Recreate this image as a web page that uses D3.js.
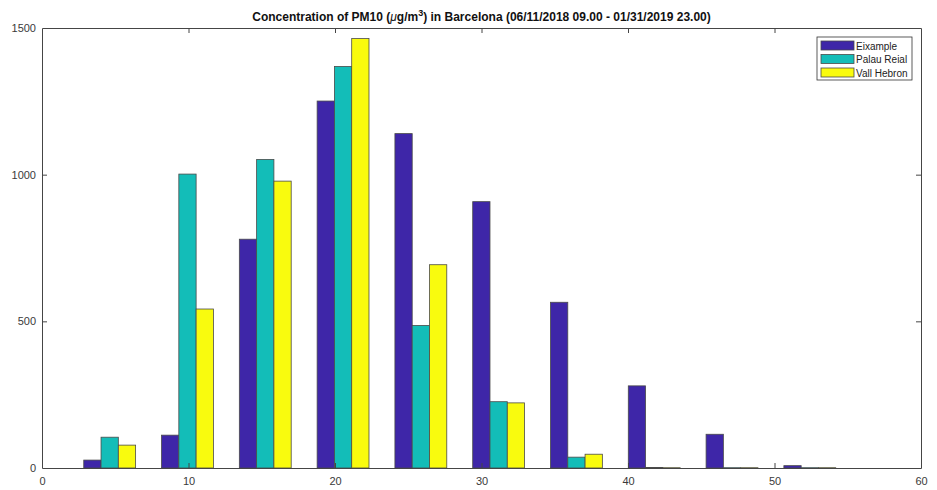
<!DOCTYPE html>
<html>
<head>
<meta charset="utf-8">
<script src="https://cdn.jsdelivr.net/npm/d3@7"></script>
<style>
  html, body { margin: 0; padding: 0; background: #fff; }
  svg { display: block; font-family: "Liberation Sans", Arial, Helvetica, sans-serif; }
</style>
</head>
<body>
<svg id="chart" width="937" height="490"></svg>
<script>
// Histogram bin centres (µg/m³)
const binCenters = [4.62, 9.93, 15.24, 20.55, 25.86, 31.17, 36.48, 41.79, 47.10, 52.41];
// Counts of hourly readings per bin, one array per station
const eixample    = [27, 112, 780, 1251, 1140, 908, 565, 280, 115, 8];
const palauReial  = [105, 1002, 1052, 1369, 486, 226, 37, 2, 1, 1];
const vallHebron  = [78, 542, 978, 1464, 693, 222, 47, 1, 1, 1];
const seriesNames = ["Eixample", "Palau Reial", "Vall Hebron"];
const seriesColors = ["#3e26a8", "#13bdb8", "#f9fb0e"];
const xTicks = [0, 10, 20, 30, 40, 50, 60];
const yTicks = [0, 500, 1000, 1500];

const seriesValues = [eixample, palauReial, vallHebron];
const svg = d3.select("#chart");

const plotLeft = 42, plotRight = 921, plotTop = 28, plotBottom = 468;
const x = d3.scaleLinear().domain([0, 60]).range([plotLeft, plotRight]);
const y = d3.scaleLinear().domain([0, 1500]).range([plotBottom, plotTop]);

// grouped bar layout: group occupies 3/(3+1.5) of the bin spacing
const spacing = binCenters[1] - binCenters[0];
const groupWidth = spacing * 3 / 4.5;
const inner = d3.scaleBand().domain(seriesNames).range([-groupWidth / 2, groupWidth / 2]).padding(0);

const rows = [];
binCenters.forEach((c, i) => {
  seriesNames.forEach((name, s) => {
    rows.push({ c, name, s, v: seriesValues[s][i] });
  });
});

svg.append("g").selectAll("rect")
  .data(rows)
  .join("rect")
  .attr("x", d => x(d.c + inner(d.name)))
  .attr("width", d => x(d.c + inner(d.name) + inner.bandwidth()) - x(d.c + inner(d.name)))
  .attr("y", d => y(d.v))
  .attr("height", d => y(0) - y(d.v))
  .attr("fill", d => seriesColors[d.s])
  .attr("stroke", "#4a4a4a")
  .attr("stroke-width", 0.8);

// axes, MATLAB-style: box with inward ticks on all four sides
const axisColor = "#454545";
const labelColor = "#3a3a3a";
const tickLen = 5;
const plain = d3.format("d");

const bottomAxis = svg.append("g").attr("transform", `translate(0,${plotBottom})`)
  .call(d3.axisBottom(x).tickValues(xTicks).tickFormat(plain).tickSizeInner(-tickLen).tickSizeOuter(0).tickPadding(9));
const leftAxis = svg.append("g").attr("transform", `translate(${plotLeft},0)`)
  .call(d3.axisLeft(y).tickValues(yTicks).tickFormat(plain).tickSizeInner(-tickLen).tickSizeOuter(0).tickPadding(6));
const topAxis = svg.append("g").attr("transform", `translate(0,${plotTop})`)
  .call(d3.axisTop(x).tickValues(xTicks).tickSizeInner(-tickLen).tickSizeOuter(0).tickFormat(""));
const rightAxis = svg.append("g").attr("transform", `translate(${plotRight},0)`)
  .call(d3.axisRight(y).tickValues(yTicks).tickSizeInner(-tickLen).tickSizeOuter(0).tickFormat(""));

[bottomAxis, leftAxis, topAxis, rightAxis].forEach(g => {
  g.select(".domain").attr("stroke", axisColor).attr("stroke-width", 1);
  g.selectAll(".tick line").attr("stroke", axisColor);
  g.selectAll(".tick text")
    .attr("fill", labelColor)
    .style("font-family", '"Liberation Sans", Arial, sans-serif')
    .style("font-size", "11px");
});
// hide end ticks that coincide with the box corners
[bottomAxis, topAxis].forEach(g => g.selectAll(".tick line").filter(d => d === 0 || d === 60).remove());
[leftAxis, rightAxis].forEach(g => g.selectAll(".tick line").filter(d => d === 0 || d === 1500).remove());

// title
const title = svg.append("text")
  .attr("x", (plotLeft + plotRight) / 2)
  .attr("y", 21)
  .attr("text-anchor", "middle")
  .attr("fill", "#111")
  .style("font-size", "12px")
  .style("font-weight", "bold");
title.append("tspan").text("Concentration of PM10 (");
title.append("tspan").text("\u03bc").style("font-style", "italic").style("font-weight", "normal");
title.append("tspan").text("g/m");
title.append("tspan").text("3").attr("dy", -5).style("font-size", "9px");
title.append("tspan").text(") in Barcelona (06/11/2018 09.00 - 01/31/2019 23.00)").attr("dy", 5);

// legend
const legend = svg.append("g").attr("transform", "translate(817,37)");
legend.append("rect")
  .attr("width", 95).attr("height", 43)
  .attr("fill", "#fff").attr("stroke", "#333").attr("stroke-width", 0.8);
seriesNames.forEach((name, i) => {
  const row = legend.append("g").attr("transform", `translate(4,${4 + i * 13.5})`);
  row.append("rect")
    .attr("width", 33).attr("height", 9)
    .attr("fill", seriesColors[i]).attr("stroke", "#4a4a4a").attr("stroke-width", 0.8);
  row.append("text")
    .attr("x", 35).attr("y", 8.5)
    .attr("fill", "#222")
    .style("font-size", "10px")
    .text(name);
});
</script>
</body>
</html>
